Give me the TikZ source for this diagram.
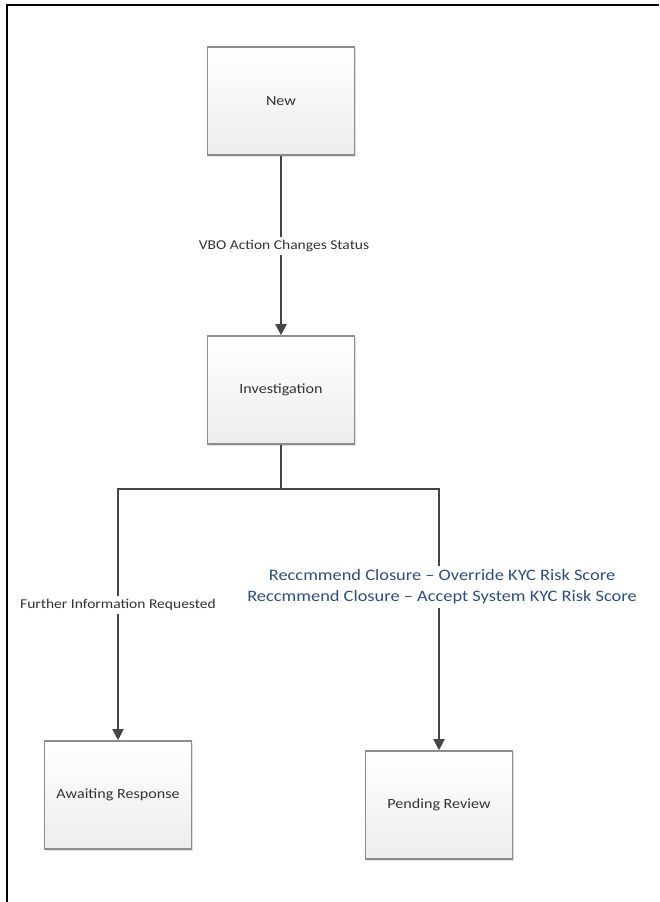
\documentclass[tikz,border=0pt]{standalone}
\usepackage{fontspec}
\setmainfont{Carlito}[FakeStretch=1.15]
\usetikzlibrary{arrows.meta,shadows}

\definecolor{edgegray}{HTML}{8C8C8C}
\definecolor{linegray}{HTML}{454545}
\definecolor{textgray}{HTML}{333333}
\definecolor{noteblue}{HTML}{2F4E7E}

\begin{document}
\begin{tikzpicture}[
    x=1pt, y=-1pt,
    >={Triangle[length=11pt, width=11pt]},
    line/.style   = {line width=2pt, draw=linegray},
    state/.style  = {draw=edgegray, line width=1.6pt, top color=white, bottom color=gray!14,
                     minimum width=147pt, minimum height=108pt,
                     font=\fontsize{14}{16}\selectfont, text=textgray,
                     drop shadow={shadow xshift=1.5pt, shadow yshift=-1.5pt, opacity=0.25}},
    lbl/.style    = {fill=white, text=textgray, font=\fontsize{13.5}{16}\selectfont},
    note/.style   = {fill=white, text=noteblue, align=center, font=\fontsize{16}{21}\selectfont}
]
\useasboundingbox (0,0) rectangle (659,902);

% Outer frame (left and top edges only)
\draw[line width=2.2pt, black] (7,902) -- (7,5) -- (659,5);

% States
\node[state] (new)   at (281, 101) {New};
\node[state] (inv)   at (281, 390) {Investigation};
\node[state] (await) at (118, 795) {Awaiting Response};
\node[state] (pend)  at (439, 805) {Pending Review};

% Transitions
\draw[->, line] (new) -- (inv);
\coordinate (fork) at (281, 489);
\draw[line] (inv) -- (fork);
\foreach \b in {await, pend}
    \draw[->, line] (fork) -| (\b.north);

% Transition labels
\node[lbl]  (vbo)  at (284, 246) {VBO Action Changes Status};
\node[lbl]  (info) at (118, 605) {Further Information Requested};
\node[note] (rec)  at (442, 587) {Reccmmend Closure -- Override KYC Risk Score\\
                                  Reccmmend Closure -- Accept System KYC Risk Score};

\end{tikzpicture}
\end{document}
